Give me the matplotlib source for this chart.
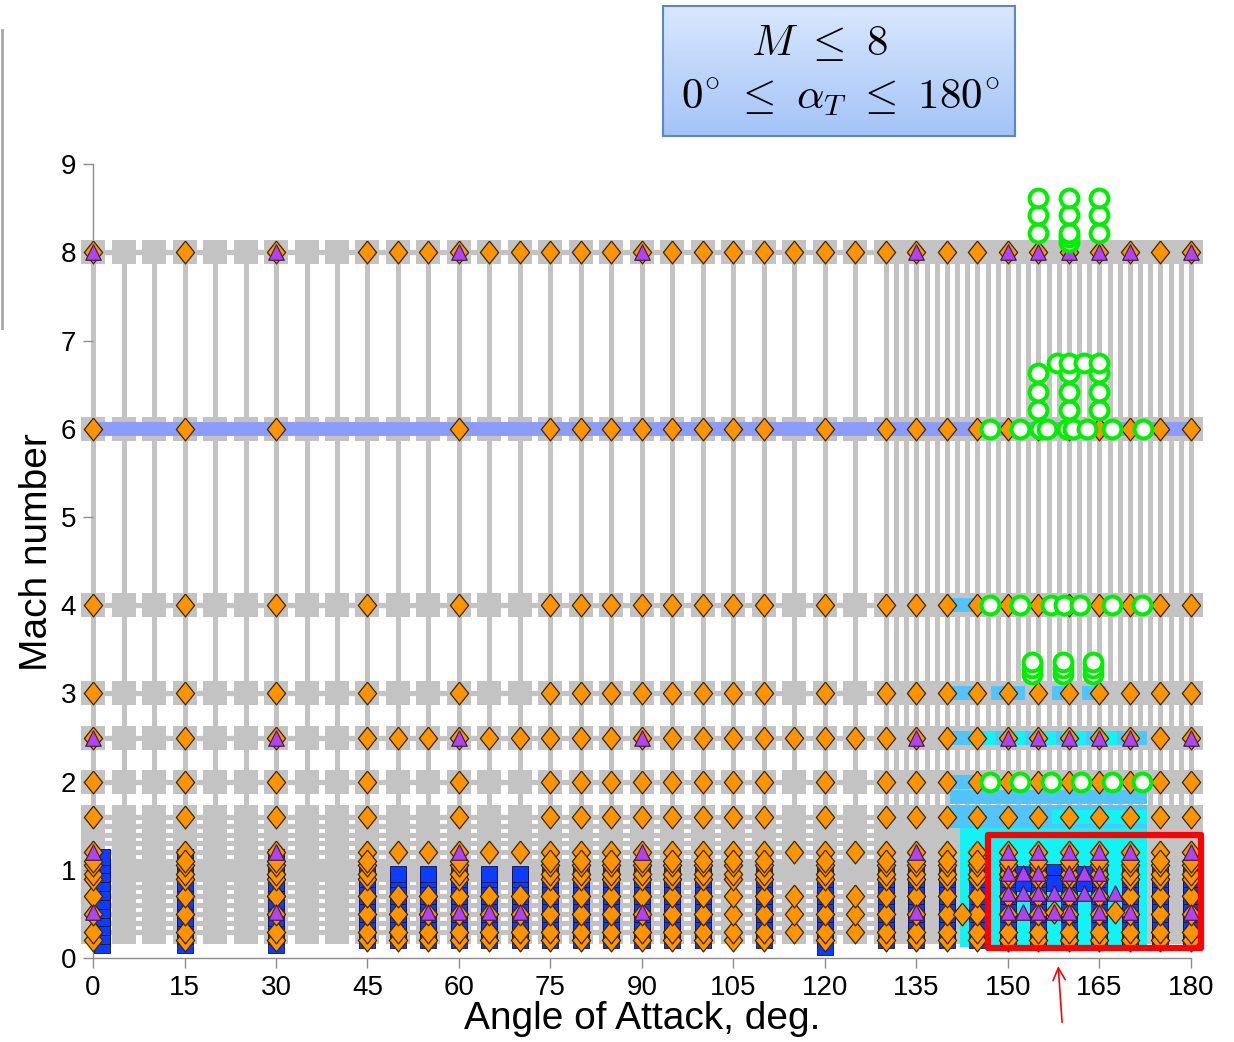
import numpy as np
import matplotlib
matplotlib.use("Agg")
import matplotlib.pyplot as plt
from matplotlib.colors import LinearSegmentedColormap
from matplotlib.patches import Rectangle
from matplotlib.lines import Line2D

plt.rcParams["font.family"] = ["Liberation Sans", "DejaVu Sans"]
plt.rcParams["mathtext.fontset"] = "cm"

# --- datos: malla de la base (gris) ---
GRID_ALPHA = [0, 5, 10, 15, 20, 25, 30, 35, 40, 45, 50, 55, 60, 65, 70, 75, 80, 85, 90, 95,
              100, 105, 110, 115, 120, 125,
              130.0, 131.7, 133.3, 135.0, 136.7, 138.3, 140.0, 141.7, 143.3, 145.0, 146.7,
              148.3, 150.0, 151.7, 153.3, 155.0, 156.7, 158.3, 160.0, 161.7, 163.3, 165.0,
              166.7, 168.3, 170.0, 171.7, 173.3, 175.0, 176.7, 178.3, 180.0]
GRID_MACH = [0.3, 0.4, 0.5, 0.6, 0.7, 0.8, 0.9, 0.95, 1.0, 1.05, 1.1, 1.2, 1.3, 1.4, 1.5, 1.6,
             2.0, 2.5, 3.0, 4.0, 6.0, 8.0]

# --- datos: diamantes naranjas por fila de Mach ---
ALPHA_ALL = [0, 15, 30, 45, 50, 55, 60, 65, 70, 75, 80, 85, 90, 95, 100, 105, 110, 115, 120,
             125, 130, 135, 140, 145, 150, 155, 160, 165, 170, 175, 180]
ALPHA_MOST = [0, 15, 30, 45, 60, 75, 80, 85, 90, 95, 100, 105, 110, 120, 130, 135, 140, 145,
              150, 155, 160, 165, 170, 175, 180]
ALPHA_M6 = [0, 15, 30, 60, 75, 80, 85, 90, 95, 100, 105, 110, 120, 130, 135, 140, 145,
            150, 155, 160, 165, 170, 175, 180]
DIAMOND_ROWS = {8.0: ALPHA_ALL, 6.0: ALPHA_M6, 4.0: ALPHA_MOST, 3.0: ALPHA_MOST,
                2.5: ALPHA_ALL, 2.0: ALPHA_MOST, 1.6: ALPHA_MOST, 1.2: ALPHA_ALL}
STACK_MACH = [0.2, 0.3, 0.5, 0.7, 0.9, 0.95, 1.05, 1.1]
PARTIAL_A = [50, 55, 65, 70]
PARTIAL_A_MACH = [0.2, 0.3, 0.5, 0.7]
PARTIAL_B = [115, 125]
PARTIAL_B_MACH = [0.3, 0.5, 0.7]
EXTRA_DIAMOND_ALPHA = [142.5, 157.5, 167.5]
EXTRA_DIAMOND_MACH = [0.5, 0.52, 0.52]

# --- datos: triángulos morados ---
TRI_ALPHA = [0, 30, 60, 90, 135, 150, 155, 160, 165, 170, 180]
TRI_ROWS = [8.0, 2.5, 1.2]
TRI_M05_ALPHA = [0, 30, 55, 60, 65, 70, 90, 135, 150, 152.5, 155, 157.5, 160, 165, 170, 180]
TRI_M096_ALPHA = [150, 152.5, 155, 160, 162.5, 165]
TRI_M074_ALPHA = [150, 152.5, 155, 157.5, 160, 162.5, 165, 167.5]

# --- datos: cuadrados azules ---
BLUE_ALPHA_HI = [1.5, 15, 30]
BLUE_MACH_HI = [0.15, 0.25, 0.35, 0.45, 0.55, 0.65, 0.75, 0.85, 0.95, 1.05, 1.15]
BLUE_ALPHA = [45, 50, 55, 60, 65, 70, 75, 80, 85, 90, 95, 100, 110, 120, 130, 135, 140, 145,
              150, 155, 160, 165, 170, 175, 180]
BLUE_MACH = [0.2, 0.3, 0.4, 0.5, 0.6, 0.7, 0.8, 0.9, 0.95]
BLUE_EXTRA_ALPHA = [120, 152.5, 155, 157.5, 160, 162.5, 152.5, 157.5, 162.5]
BLUE_EXTRA_MACH = [0.12, 0.95, 0.97, 0.97, 0.97, 0.95, 0.85, 0.85, 0.85]

# --- datos: zonas cian / azul claro ---
CYAN_ALPHA = [143.3, 145.0, 146.7, 148.3, 150.0, 151.7, 153.3, 155.0, 156.7, 158.3, 160.0,
              161.7, 163.3, 165.0, 166.7, 168.3, 170.0, 171.7]
CYAN_MACH = [0.2, 0.3, 0.4, 0.5, 0.6, 0.7, 0.8, 0.9, 1.0, 1.1, 1.2, 1.3, 1.42]
CYAN_R25_ALPHA = [145.0, 146.7, 150.0, 151.7, 155.0, 156.7, 160.0, 161.7, 165.0, 166.7, 170.0]
CYAN_R16_ALPHA = [158.3, 160.0, 161.7, 163.3, 165.0, 166.7, 168.3, 170.0, 171.7]
LB_ALPHA = [141.7, 143.3, 145.0, 146.7, 148.3, 150.0, 151.7, 153.3, 155.0, 156.7, 158.3,
            160.0, 161.7, 163.3, 165.0, 166.7, 168.3, 170.0, 171.7]
LB_ROWS = [1.55, 1.65, 1.82, 2.5]
LB_SPOT_ALPHA = [141.7, 143.3, 141.7, 143.3, 145.0, 141.7, 143.3, 148.3, 150.0, 151.7, 158.3,
                 163.3, 165.0]
LB_SPOT_MACH = [4.0, 4.0, 2.0, 2.0, 2.0, 3.0, 3.0, 3.0, 3.0, 3.0, 3.0, 3.0, 3.0]

# --- datos: círculos verdes ---
CIRC_ALPHA = [155, 155, 155, 160, 160, 160, 160, 160, 165, 165, 165,
              155, 155, 155, 158, 160, 160, 160, 160, 162.5, 165, 165, 165, 165,
              147, 152, 155.2, 156.4, 159.7, 160.7, 163, 167, 172.1,
              147, 152, 157, 159.2, 161.8, 167, 172,
              154, 154, 154, 159, 159, 159, 164, 164, 164,
              147, 152, 157, 162, 167, 172]
CIRC_MACH = [8.22, 8.42, 8.62, 8.12, 8.17, 8.22, 8.42, 8.62, 8.22, 8.42, 8.62,
             6.21, 6.42, 6.63, 6.75, 6.21, 6.42, 6.63, 6.75, 6.75, 6.21, 6.42, 6.63, 6.75,
             6.0, 6.0, 6.0, 6.0, 6.0, 6.0, 6.0, 6.0, 6.0,
             4.0, 4.0, 4.0, 4.0, 4.0, 4.0, 4.0,
             3.22, 3.29, 3.36, 3.22, 3.29, 3.36, 3.22, 3.29, 3.36,
             2.0, 2.0, 2.0, 2.0, 2.0, 2.0]

X_TICKS = [0, 15, 30, 45, 60, 75, 90, 105, 120, 135, 150, 165, 180]
Y_TICKS = [0, 1, 2, 3, 4, 5, 6, 7, 8, 9]

GRAY = "#c3c3c3"
ORANGE = "#ff9400"
PURPLE = "#b043f2"
BLUE = "#0b3cff"
CYAN = "#13f3f3"
LIGHTBLUE = "#52c4fb"
GREEN = "#00ee00"
DIAMOND = [(0, 1), (0.8, 0), (0, -1), (-0.8, 0), (0, 1)]

fig = plt.figure(figsize=(12.34, 10.42), dpi=100)
ax = fig.add_axes([0.0556, 0.0806, 0.9293, 0.7787])
ax.set_xlim(-4, 184)
ax.set_ylim(0, 9.2)

# malla gris
ax.vlines(GRID_ALPHA, 0.3, 8.0, color=GRAY, lw=3.6, zorder=1)
ax.hlines(GRID_MACH, 0, 180, color=GRAY, lw=3.8, zorder=1)
ga, gm = np.meshgrid(GRID_ALPHA, GRID_MACH)
ax.scatter(ga.ravel(), gm.ravel(), marker="s", s=300, color=GRAY, lw=0, zorder=1)

# banda M = 6
ax.hlines(6.0, 0, 180, color="#8b9cfb", lw=10, zorder=2)

# zonas cian y azul claro
ca, cm = np.meshgrid(CYAN_ALPHA, CYAN_MACH)
ax.scatter(ca.ravel(), cm.ravel(), marker="s", s=95, color=CYAN, lw=0, zorder=2)
la, lm = np.meshgrid(LB_ALPHA, LB_ROWS)
ax.scatter(la.ravel(), lm.ravel(), marker="s", s=90, color=LIGHTBLUE, lw=0, zorder=2)
ax.scatter(LB_SPOT_ALPHA, LB_SPOT_MACH, marker="s", s=90, color=LIGHTBLUE, lw=0, zorder=2)
ax.scatter(CYAN_R25_ALPHA, [2.5] * len(CYAN_R25_ALPHA), marker="s", s=90, color=CYAN,
           lw=0, zorder=2)
ax.scatter(CYAN_R16_ALPHA, [1.6] * len(CYAN_R16_ALPHA), marker="s", s=90, color=CYAN,
           lw=0, zorder=2)

# cuadrados azules
ba, bm = np.meshgrid(BLUE_ALPHA_HI, BLUE_MACH_HI)
ax.scatter(ba.ravel(), bm.ravel(), marker="s", s=130, color=BLUE, edgecolor="#101040",
           lw=0.6, zorder=3)
ba, bm = np.meshgrid(BLUE_ALPHA, BLUE_MACH)
ax.scatter(ba.ravel(), bm.ravel(), marker="s", s=130, color=BLUE, edgecolor="#101040",
           lw=0.6, zorder=3)
ax.scatter(BLUE_EXTRA_ALPHA, BLUE_EXTRA_MACH, marker="s", s=130, color=BLUE,
           edgecolor="#101040", lw=0.6, zorder=3)

# diamantes naranjas
dk = dict(marker=DIAMOND, s=270, color=ORANGE, edgecolor="#3b2808", lw=0.9, zorder=4)
for mach, alphas in DIAMOND_ROWS.items():
    ax.scatter(alphas, [mach] * len(alphas), **dk)
for m in STACK_MACH:
    ax.scatter(ALPHA_MOST, [m] * len(ALPHA_MOST), **dk)
for m in PARTIAL_A_MACH:
    ax.scatter(PARTIAL_A, [m] * len(PARTIAL_A), **dk)
for m in PARTIAL_B_MACH:
    ax.scatter(PARTIAL_B, [m] * len(PARTIAL_B), **dk)
ax.scatter(EXTRA_DIAMOND_ALPHA, EXTRA_DIAMOND_MACH, **dk)

# triángulos morados
tk = dict(marker="^", s=125, color=PURPLE, edgecolor="#3a1a40", lw=0.8, zorder=5)
for m in TRI_ROWS:
    ax.scatter(TRI_ALPHA, [m] * len(TRI_ALPHA), **tk)
ax.scatter(TRI_M05_ALPHA, [0.52] * len(TRI_M05_ALPHA), **tk)
ax.scatter(TRI_M096_ALPHA, [0.96] * len(TRI_M096_ALPHA), **tk)
ax.scatter(TRI_M074_ALPHA, [0.74] * len(TRI_M074_ALPHA), **tk)

# círculos verdes
ax.scatter(CIRC_ALPHA, CIRC_MACH, marker="o", s=165, facecolor="white", edgecolor=GREEN,
           lw=2.9, zorder=6)

# recuadro rojo y flecha
ax.add_patch(Rectangle((146.7, 0.11), 34.9, 1.28, fill=False, edgecolor="red", lw=4.5,
                       joinstyle="round", zorder=7, clip_on=False))
ax.annotate("", xy=(158.2, -0.06), xytext=(158.9, -0.76), annotation_clip=False,
            arrowprops=dict(arrowstyle="->", color="red", lw=1.2, mutation_scale=22))

# ejes
for side in ("top", "right"):
    ax.spines[side].set_visible(False)
ax.spines["left"].set_position(("data", 0))
ax.spines["left"].set_bounds(0, 9)
ax.spines["bottom"].set_bounds(0, 180)
for side in ("left", "bottom"):
    ax.spines[side].set_color("#8c8c8c")
    ax.spines[side].set_linewidth(1.0)
    ax.spines[side].set_zorder(0.5)
ax.set_xticks(X_TICKS)
ax.set_yticks(Y_TICKS)
ax.tick_params(direction="out", length=7, width=1.0, color="#8c8c8c", labelsize=20, pad=5)
ax.set_xlabel("Angle of Attack, deg.", fontsize=28, labelpad=0)
ax.set_ylabel("Mach number", fontsize=28, labelpad=4)

# recuadro de leyenda con degradado
bax = fig.add_axes([0.537, 0.8695, 0.2855, 0.1247])
cmap = LinearSegmentedColormap.from_list("caja", ["#d8e7fd", "#a4c4f8"])
bax.imshow(np.linspace(0, 1, 64).reshape(-1, 1), aspect="auto", cmap=cmap,
           extent=(0, 1, 0, 1))
bax.set_xticks([])
bax.set_yticks([])
for sp in bax.spines.values():
    sp.set_color("#5b86cc")
    sp.set_linewidth(1.5)
bax.text(0.446, 0.71, r"$M\ \leq\ 8$", fontsize=31, ha="center", va="center")
bax.text(0.503, 0.29, r"$0^{\circ}\ \leq\ \alpha_T\ \leq\ 180^{\circ}$", fontsize=31,
         ha="center", va="center")

# borde de la captura a la izquierda
fig.add_artist(Line2D([0.0015, 0.0015], [1 - 30 / 1042, 1 - 328 / 1042],
                      transform=fig.transFigure, color="#a8a8a8", lw=2))

fig.savefig("out.png", dpi=100)
